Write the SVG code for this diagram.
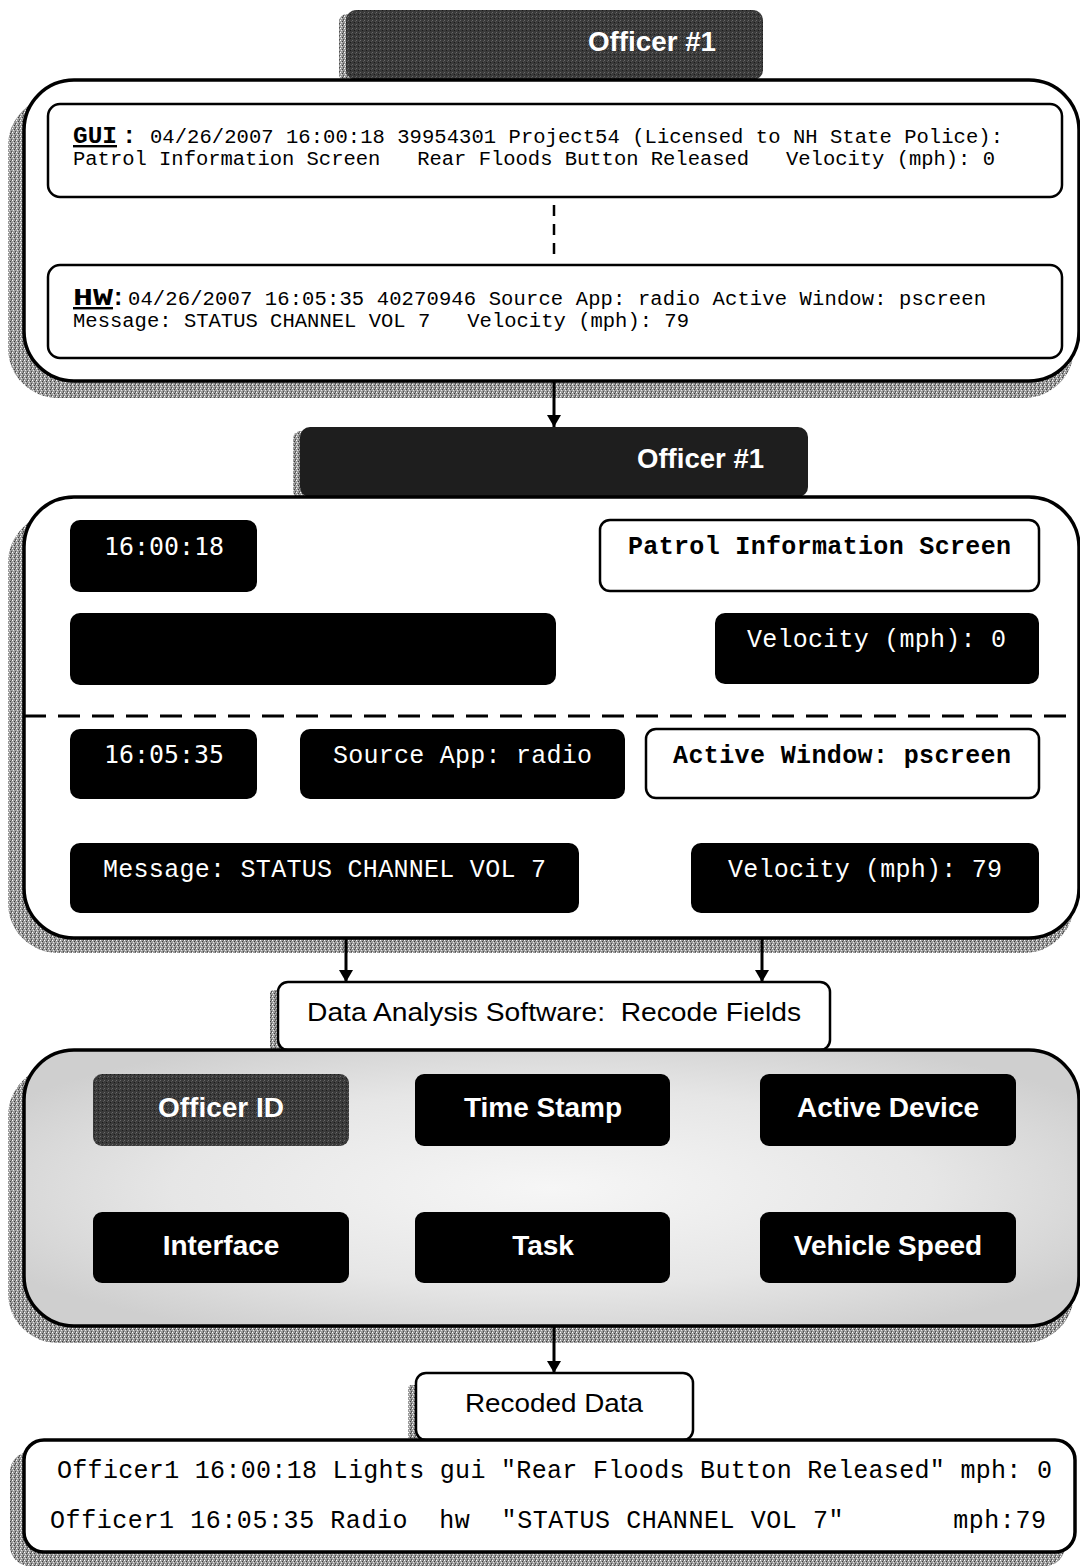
<svg xmlns="http://www.w3.org/2000/svg" width="1080" height="1566" viewBox="0 0 1080 1566">
<defs>
<pattern id="stip" width="4" height="4" patternUnits="userSpaceOnUse">
<rect width="4" height="4" fill="#9c9c9c"/>
<rect x="0" y="0" width="1" height="1" fill="#ffffff"/>
<rect x="2" y="1" width="1" height="1" fill="#3c3c3c"/>
<rect x="1" y="2" width="1" height="1" fill="#e6e6e6"/>
<rect x="3" y="3" width="1" height="1" fill="#505050"/>
<rect x="3" y="0" width="1" height="1" fill="#707070"/>
</pattern>
<pattern id="darkstip" width="4" height="4" patternUnits="userSpaceOnUse">
<rect width="4" height="4" fill="#3a3a3a"/>
<rect x="0" y="0" width="1" height="1" fill="#6a6a6a"/>
<rect x="2" y="2" width="1" height="1" fill="#1a1a1a"/>
<rect x="3" y="1" width="1" height="1" fill="#555"/>
</pattern>
<radialGradient id="panelGrad" cx="0.5" cy="0.5" r="0.6">
<stop offset="0" stop-color="#f6f6f6"/>
<stop offset="0.6" stop-color="#e6e6e6"/>
<stop offset="1" stop-color="#cfcfcf"/>
</radialGradient>
<marker id="arr" viewBox="0 0 12 14" refX="12" refY="7" markerWidth="12" markerHeight="14" markerUnits="userSpaceOnUse" orient="auto">
<path d="M0,0 L12,7 L0,14 Z" fill="#000"/>
</marker>
<style>
.shadow{fill:url(#stip);}
.panel{fill:#fff;stroke:#000;stroke-width:3.5;}
.wbox{fill:#fff;stroke:#000;stroke-width:2.5;}
.bbox{fill:#000;}
.mono{font-family:"Liberation Mono","Courier New",monospace;}
.smono{font-family:"DejaVu Sans Mono","Liberation Mono",monospace;}
.sans{font-family:"Liberation Sans",Arial,sans-serif;}
.log{font-size:20.5px;fill:#000;}
.fld{font-size:25px;fill:#fff;}
.fldb{font-size:25px;font-weight:bold;fill:#000;}
.btn{font-size:28px;font-weight:bold;fill:#fff;text-anchor:middle;}
.title{font-size:27px;font-weight:bold;fill:#fff;}
.lbl{font-size:26px;fill:#000;text-anchor:middle;}
.conn{stroke:#000;stroke-width:3;fill:none;}
</style>
</defs>

<!-- Section 1: Raw data -->
<g id="title1">
<rect class="shadow" x="339" y="14" width="30" height="68" rx="8"/>
<rect x="346" y="10" width="417" height="70" rx="10" fill="url(#darkstip)"/>
<text class="sans title" x="588" y="51" textLength="128" lengthAdjust="spacingAndGlyphs">Officer #1</text>
</g>

<g id="panel1">
<rect class="shadow" x="8" y="96" width="1066" height="302" rx="50"/>
<rect class="panel" x="24" y="80" width="1055" height="301" rx="50"/>
</g>

<g id="gui-box">
<rect class="wbox" x="48" y="104" width="1014" height="93" rx="12"/>
<text class="mono" x="73" y="143" font-size="24" font-weight="bold" text-decoration="underline" textLength="44" lengthAdjust="spacingAndGlyphs">GUI</text>
<text class="mono" x="122" y="143" font-size="24" font-weight="bold">:</text>
<text class="mono log" x="150" y="143" textLength="853" lengthAdjust="spacing" xml:space="preserve">04/26/2007 16:00:18 39954301 Project54 (Licensed to NH State Police):</text>
<text class="mono log" x="73" y="165" textLength="922" lengthAdjust="spacing" xml:space="preserve">Patrol Information Screen   Rear Floods Button Released   Velocity (mph): 0</text>
</g>

<g id="hw-box">
<rect class="wbox" x="48" y="265" width="1014" height="93" rx="12"/>
<text class="mono" x="73" y="305" font-size="24" font-weight="bold" text-decoration="underline" textLength="40" lengthAdjust="spacingAndGlyphs">HW</text>
<text class="mono" x="111" y="305" font-size="24" font-weight="bold">:</text>
<text class="mono log" x="128" y="305" textLength="858" lengthAdjust="spacing" xml:space="preserve">04/26/2007 16:05:35 40270946 Source App: radio Active Window: pscreen</text>
<text class="mono log" x="73" y="327" textLength="616" lengthAdjust="spacing" xml:space="preserve">Message: STATUS CHANNEL VOL 7   Velocity (mph): 79</text>
</g>

<!-- Section 2: Parsed data -->
<g id="title2">
<rect class="shadow" x="293" y="431" width="30" height="68" rx="8"/>
<rect x="300" y="427" width="508" height="70" rx="10" fill="#1e1e1e"/>
<text class="sans title" x="637" y="468" textLength="127" lengthAdjust="spacingAndGlyphs">Officer #1</text>
</g>

<g id="panel2">
<rect class="shadow" x="8" y="513" width="1066" height="440" rx="50"/>
<rect class="panel" x="24" y="497" width="1055" height="441" rx="50"/>
</g>

<g id="f-time1">
<rect class="bbox" x="70" y="520" width="187" height="72" rx="10"/>
<text class="smono fld" x="104" y="555" font-size="23" textLength="120" lengthAdjust="spacingAndGlyphs">16:00:18</text>
</g>
<g id="f-screen">
<rect class="wbox" x="600" y="520" width="439" height="71" rx="10"/>
<text class="mono fldb" x="628" y="554" textLength="383" lengthAdjust="spacing">Patrol Information Screen</text>
</g>
<g id="f-blank">
<rect class="bbox" x="70" y="613" width="486" height="72" rx="10"/>
</g>
<g id="f-vel0">
<rect class="bbox" x="715" y="613" width="324" height="71" rx="10"/>
<text class="mono fld" x="747" y="647" textLength="259" lengthAdjust="spacing">Velocity (mph): 0</text>
</g>

<g id="f-time2">
<rect class="bbox" x="70" y="729" width="187" height="70" rx="10"/>
<text class="smono fld" x="104" y="763" font-size="23" textLength="120" lengthAdjust="spacingAndGlyphs">16:05:35</text>
</g>
<g id="f-source">
<rect class="bbox" x="300" y="729" width="325" height="70" rx="10"/>
<text class="mono fld" x="333" y="763" textLength="259" lengthAdjust="spacing">Source App: radio</text>
</g>
<g id="f-window">
<rect class="wbox" x="646" y="729" width="393" height="69" rx="10"/>
<text class="mono fldb" x="673" y="763" textLength="338" lengthAdjust="spacing">Active Window: pscreen</text>
</g>
<g id="f-message">
<rect class="bbox" x="70" y="843" width="509" height="70" rx="10"/>
<text class="mono fld" x="103" y="877" textLength="443" lengthAdjust="spacing">Message: STATUS CHANNEL VOL 7</text>
</g>
<g id="f-vel79">
<rect class="bbox" x="691" y="843" width="348" height="70" rx="10"/>
<text class="mono fld" x="728" y="877" textLength="274" lengthAdjust="spacing">Velocity (mph): 79</text>
</g>

<!-- Section 3: Recode -->
<g id="recode-label">
<rect class="shadow" x="270" y="990" width="20" height="60" rx="4"/>
<rect class="wbox" x="278" y="982" width="552" height="68" rx="10"/>
<text class="sans lbl" x="554" y="1021" textLength="494" lengthAdjust="spacingAndGlyphs" xml:space="preserve">Data Analysis Software:  Recode Fields</text>
</g>

<g id="panel3">
<rect class="shadow" x="8" y="1066" width="1066" height="277" rx="50"/>
<rect x="24" y="1050" width="1055" height="276" rx="50" fill="url(#panelGrad)" stroke="#000" stroke-width="3.5"/>
</g>

<g id="b-officer">
<rect x="93" y="1074" width="256" height="72" rx="9" fill="url(#darkstip)"/>
<text class="sans btn" x="221" y="1117">Officer ID</text>
</g>
<g id="b-time">
<rect class="bbox" x="415" y="1074" width="255" height="72" rx="9"/>
<text class="sans btn" x="543" y="1117">Time Stamp</text>
</g>
<g id="b-device">
<rect class="bbox" x="760" y="1074" width="256" height="72" rx="9"/>
<text class="sans btn" x="888" y="1117">Active Device</text>
</g>
<g id="b-interface">
<rect class="bbox" x="93" y="1212" width="256" height="71" rx="9"/>
<text class="sans btn" x="221" y="1255">Interface</text>
</g>
<g id="b-task">
<rect class="bbox" x="415" y="1212" width="255" height="71" rx="9"/>
<text class="sans btn" x="543" y="1255">Task</text>
</g>
<g id="b-speed">
<rect class="bbox" x="760" y="1212" width="256" height="71" rx="9"/>
<text class="sans btn" x="888" y="1255">Vehicle Speed</text>
</g>

<!-- Section 4: Recoded data -->
<g id="recoded-label">
<rect class="shadow" x="408" y="1385" width="20" height="55" rx="4"/>
<rect class="wbox" x="416" y="1373" width="277" height="67" rx="10"/>
<text class="sans lbl" x="554" y="1412" textLength="178" lengthAdjust="spacingAndGlyphs">Recoded Data</text>
</g>

<g id="panel4">
<rect class="shadow" x="10" y="1452" width="1055" height="114" rx="20"/>
<rect class="panel" x="24" y="1440" width="1051" height="112" rx="20"/>
<text class="mono" font-size="25" x="57" y="1478" textLength="995" lengthAdjust="spacing" xml:space="preserve">Officer1 16:00:18 Lights gui "Rear Floods Button Released" mph: 0</text>
<text class="mono" font-size="25" x="50" y="1528" textLength="996" lengthAdjust="spacing" xml:space="preserve">Officer1 16:05:35 Radio  hw  "STATUS CHANNEL VOL 7"       mph:79</text>
</g>

<!-- Connectors -->
<g id="connectors">
<line x1="554" y1="205" x2="554" y2="258" stroke="#000" stroke-width="2.5" stroke-dasharray="11,8"/>
<line x1="24" y1="716" x2="1080" y2="716" stroke="#000" stroke-width="3" stroke-dasharray="22,12"/>
<line class="conn" x1="554" y1="381" x2="554" y2="427" marker-end="url(#arr)"/>
<line class="conn" x1="346" y1="938" x2="346" y2="982" marker-end="url(#arr)"/>
<line class="conn" x1="762" y1="938" x2="762" y2="982" marker-end="url(#arr)"/>
<line class="conn" x1="554" y1="1326" x2="554" y2="1373" marker-end="url(#arr)"/>
</g>
</svg>
